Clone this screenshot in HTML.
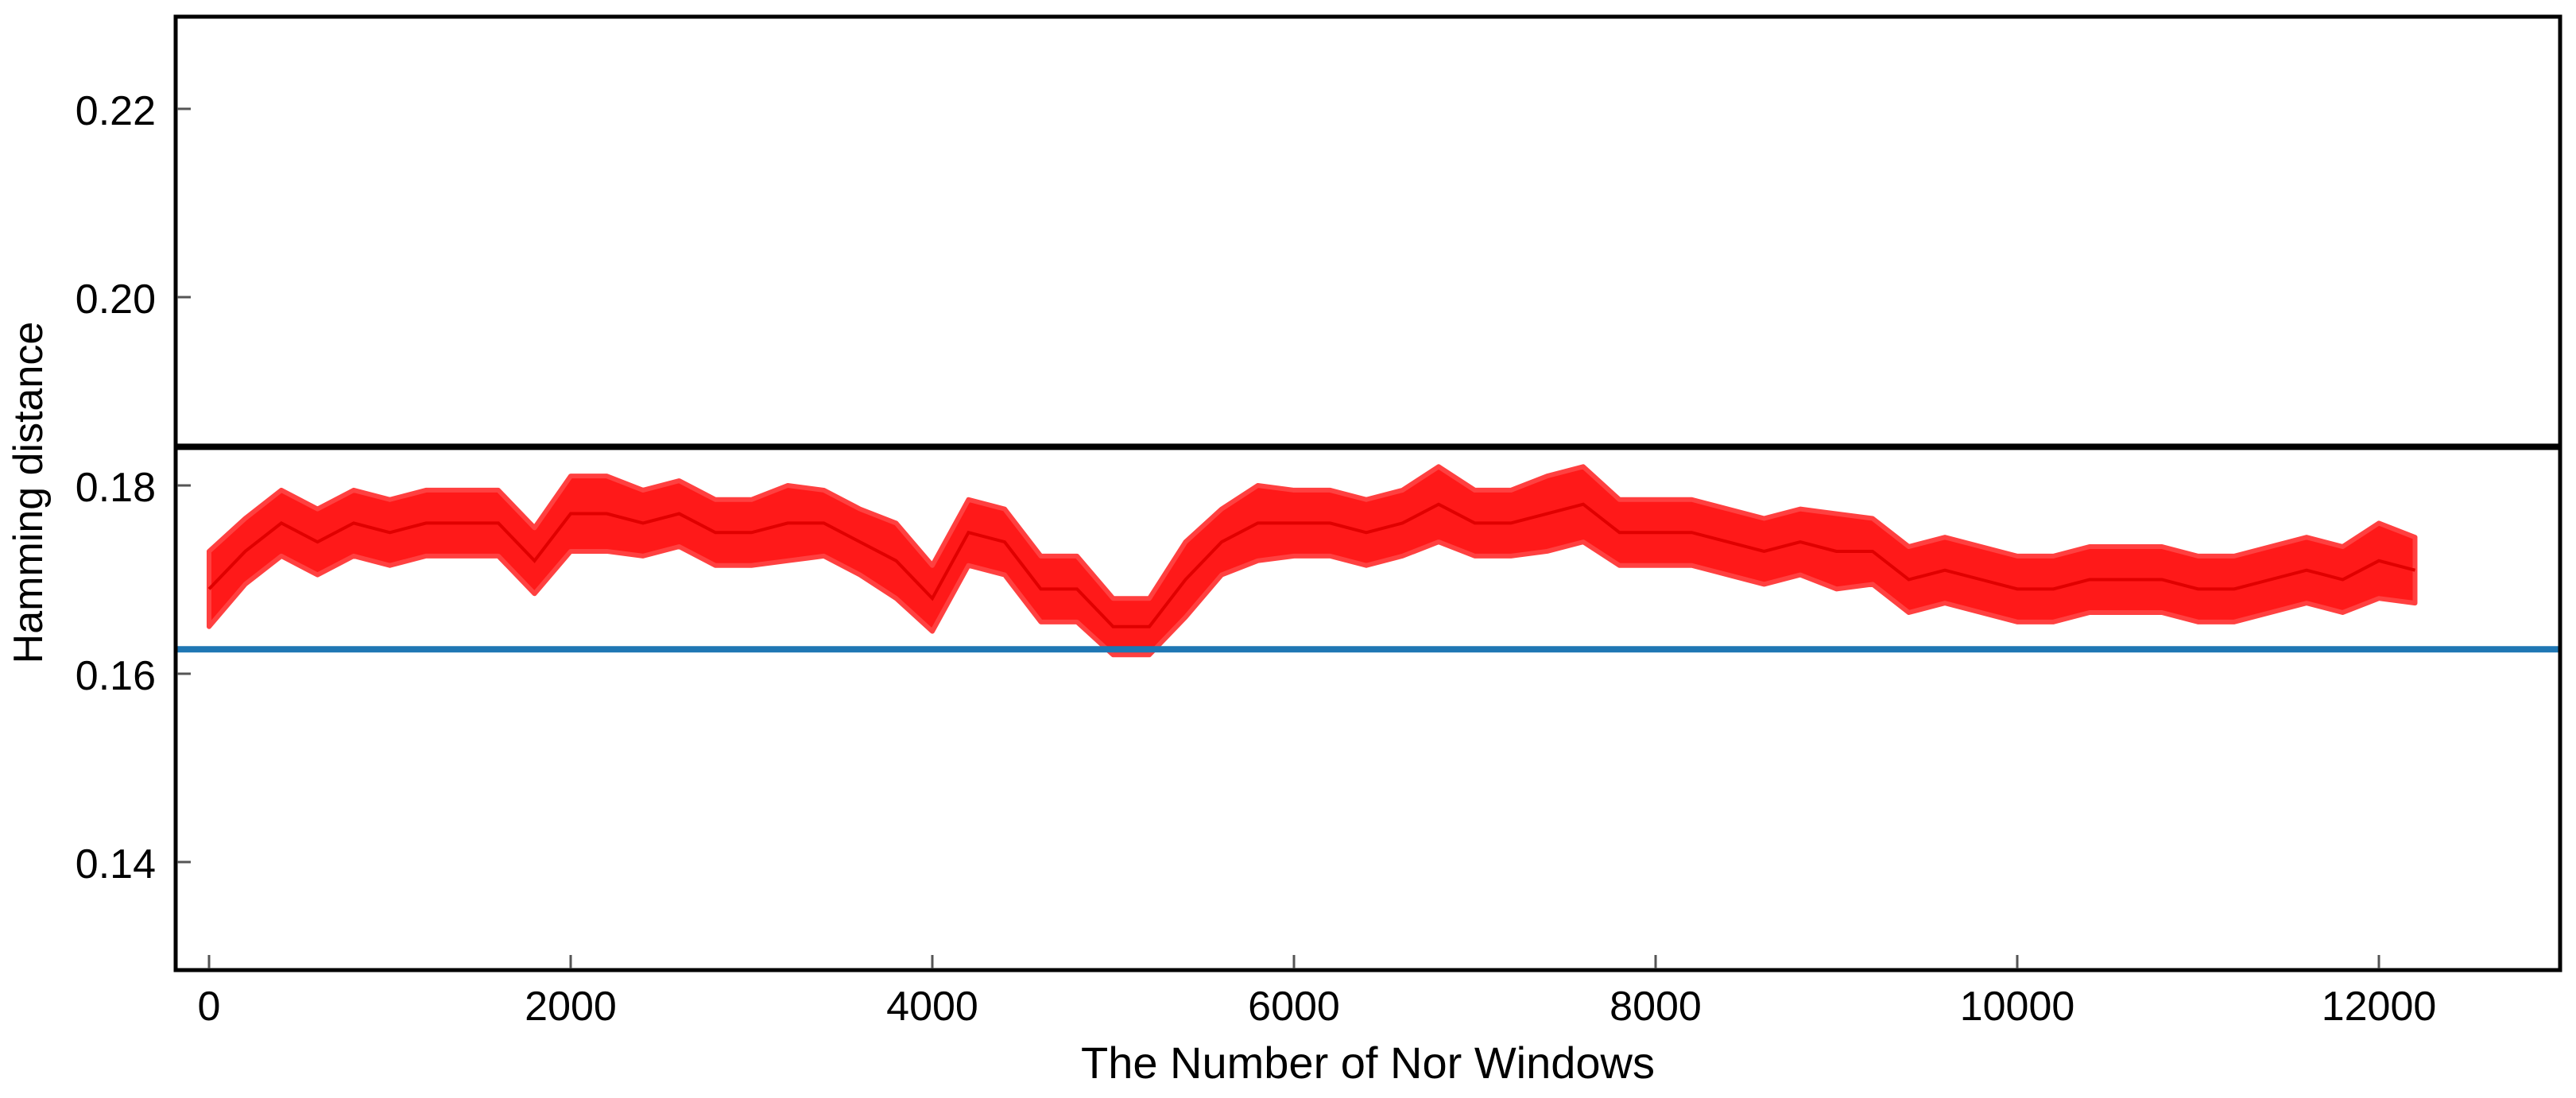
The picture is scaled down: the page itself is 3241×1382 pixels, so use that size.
<!DOCTYPE html>
<html><head><meta charset="utf-8"><style>
html,body{margin:0;padding:0;background:#fff}
svg{display:block}
text{font-family:"Liberation Sans",Arial,sans-serif;fill:#000}
</style></head><body>
<svg id="chart" width="3241" height="1382" viewBox="0 0 3241 1382">
<g id="marks"></g>
<rect x="221" y="21" width="3000" height="1200" fill="none" stroke="#000" stroke-width="5"/>
<g id="axes"></g>
<text x="1721" y="1357" font-size="56" text-anchor="middle">The Number of Nor Windows</text>
<text transform="translate(53,620) rotate(-90)" font-size="52" text-anchor="middle">Hamming distance</text>
</svg>
<script>
const binStarts=[0,200,400,600,800,1000,1200,1400,1600,1800,2000,2200,2400,2600,2800,3000,3200,3400,3600,3800,4000,4200,4400,4600,4800,5000,5200,5400,5600,5800,6000,6200,6400,6600,6800,7000,7200,7400,7600,7800,8000,8200,8400,8600,8800,9000,9200,9400,9600,9800,10000,10200,10400,10600,10800,11000,11200,11400,11600,11800,12000,12200];
const binMeans=[0.169,0.173,0.176,0.174,0.176,0.175,0.176,0.176,0.176,0.172,0.177,0.177,0.176,0.177,0.175,0.175,0.176,0.176,0.174,0.172,0.168,0.175,0.174,0.169,0.169,0.165,0.165,0.170,0.174,0.176,0.176,0.176,0.175,0.176,0.178,0.176,0.176,0.177,0.178,0.175,0.175,0.175,0.174,0.173,0.174,0.173,0.173,0.170,0.171,0.170,0.169,0.169,0.170,0.170,0.170,0.169,0.169,0.170,0.171,0.170,0.172,0.171];
const binSpread=[0.004,0.0035,0.0035,0.0035,0.0035,0.0035,0.0035,0.0035,0.0035,0.0035,0.004,0.004,0.0035,0.0035,0.0035,0.0035,0.004,0.0035,0.0035,0.004,0.0035,0.0035,0.0035,0.0035,0.0035,0.003,0.003,0.004,0.0035,0.004,0.0035,0.0035,0.0035,0.0035,0.004,0.0035,0.0035,0.004,0.004,0.0035,0.0035,0.0035,0.0035,0.0035,0.0035,0.004,0.0035,0.0035,0.0035,0.0035,0.0035,0.0035,0.0035,0.0035,0.0035,0.0035,0.0035,0.0035,0.0035,0.0035,0.004,0.0035];
const upperThreshold=0.1841;
const lowerThreshold=0.1626;
const xTicks=[0,2000,4000,6000,8000,10000,12000];
const yTicks=[0.14,0.16,0.18,0.20,0.22];
const yTickLabels=["0.14","0.16","0.18","0.20","0.22"];
const NS="http://www.w3.org/2000/svg";
function xs(v){return 263+v*(2993-263)/12000;}
function ys(v){return 374+(0.20-v)*11850;}
const marks=document.getElementById('marks');
const axes=document.getElementById('axes');
let up=[],lo=[];
for(let i=0;i<binStarts.length;i++){
  up.push(xs(binStarts[i])+','+ys(binMeans[i]+binSpread[i]));
  lo.unshift(xs(binStarts[i])+','+ys(binMeans[i]-binSpread[i]));
}
const band=document.createElementNS(NS,'polygon');
band.setAttribute('points',up.concat(lo).join(' '));
band.setAttribute('fill','#ff0000');
band.setAttribute('fill-opacity','0.9');
band.setAttribute('stroke','#ff4040');
band.setAttribute('stroke-width','6');
band.setAttribute('stroke-linejoin','round');


marks.appendChild(band);
const mean=document.createElementNS(NS,'polyline');
mean.setAttribute('points',binStarts.map((b,i)=>xs(b)+','+ys(binMeans[i])).join(' '));
mean.setAttribute('fill','none');
mean.setAttribute('stroke','#e00000');
mean.setAttribute('stroke-width','4');


marks.appendChild(mean);
function hline(v,color,name){
  const l=document.createElementNS(NS,'line');
  l.setAttribute('x1',221);l.setAttribute('x2',3221);
  l.setAttribute('y1',ys(v));l.setAttribute('y2',ys(v));
  l.setAttribute('stroke',color);l.setAttribute('stroke-width',8);
  
  
  marks.appendChild(l);
}
hline(upperThreshold,'#000','upper-threshold-line');
hline(lowerThreshold,'#1f77b4','lower-threshold-line');
yTicks.forEach((v,i)=>{
  const t=document.createElementNS(NS,'line');
  t.setAttribute('x1',223);t.setAttribute('x2',240);
  t.setAttribute('y1',ys(v));t.setAttribute('y2',ys(v));
  t.setAttribute('stroke','#555');t.setAttribute('stroke-width',3);
  
  
  axes.appendChild(t);
  const tx=document.createElementNS(NS,'text');
  tx.setAttribute('x',196);tx.setAttribute('y',ys(v)+20);
  tx.setAttribute('font-size','52');tx.setAttribute('text-anchor','end');
  tx.textContent=yTickLabels[i];
  
  
  axes.appendChild(tx);
});
xTicks.forEach(v=>{
  const t=document.createElementNS(NS,'line');
  t.setAttribute('x1',xs(v));t.setAttribute('x2',xs(v));
  t.setAttribute('y1',1202);t.setAttribute('y2',1219);
  t.setAttribute('stroke','#555');t.setAttribute('stroke-width',3);
  
  
  axes.appendChild(t);
  const tx=document.createElementNS(NS,'text');
  tx.setAttribute('x',xs(v));tx.setAttribute('y',1284);
  tx.setAttribute('font-size','52');tx.setAttribute('text-anchor','middle');
  tx.textContent=String(v);
  
  
  axes.appendChild(tx);
});
</script>
</body></html>
